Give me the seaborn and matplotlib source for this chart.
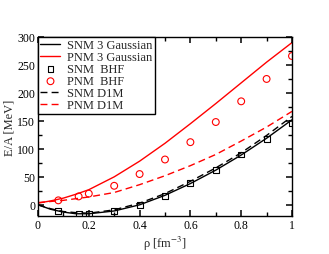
import numpy as np
import pandas as pd
import matplotlib
matplotlib.use("Agg")
import matplotlib.pyplot as plt
import seaborn as sns
from matplotlib.ticker import MultipleLocator

# densidades (fm^-3) das curvas
rho_curve = [0.0, 0.05, 0.1, 0.15, 0.2, 0.3, 0.4, 0.5, 0.6, 0.7, 0.8, 0.9, 1.0]
snm_gauss = [0, -8, -13, -16, -16, -11, 0, 17, 38, 62, 89, 119, 152]
pnm_gauss = [3, 7, 12, 19, 27, 50, 78, 110, 145, 181, 218, 255, 290]
snm_d1m = [0, -7, -12, -14, -15, -9, 3, 20, 42, 66, 93, 124, 158]
pnm_d1m = [4, 6, 8, 11, 14, 22, 36, 52, 70, 90, 114, 139, 167]

# pontos BHF
rho_bhf = [0.08, 0.16, 0.2, 0.3, 0.4, 0.5, 0.6, 0.7, 0.8, 0.9, 1.0]
snm_bhf = [-11, -17, -17, -11, 0, 16, 39, 63, 90, 118, 147]
pnm_bhf = [8, 15, 20, 34, 55, 81, 112, 148, 185, 225, 266]

sns.set_theme(style="ticks")
plt.rcParams["font.family"] = ["Liberation Serif", "DejaVu Serif"]
plt.rcParams["mathtext.fontset"] = "stix"
plt.rcParams["axes.axisbelow"] = False

curves = pd.DataFrame({"rho": rho_curve, "snm_g": snm_gauss, "pnm_g": pnm_gauss,
                       "snm_d": snm_d1m, "pnm_d": pnm_d1m})
bhf = pd.DataFrame({"rho": rho_bhf, "snm": snm_bhf, "pnm": pnm_bhf})

fig = plt.figure(figsize=(3.29, 2.55), dpi=100)
ax = fig.add_axes([0.1155, 0.149, 0.772, 0.702])

dash = (0, (5, 3))
sns.lineplot(data=curves, x="rho", y="snm_g", color="black", lw=1.0, ax=ax,
             label="SNM 3 Gaussian")
sns.lineplot(data=curves, x="rho", y="pnm_g", color="red", lw=1.0, ax=ax,
             label="PNM 3 Gaussian")
sns.scatterplot(data=bhf, x="rho", y="snm", marker="s", s=18, facecolor="none",
                edgecolor="black", linewidth=0.8, ax=ax, label="SNM  BHF", zorder=3)
sns.scatterplot(data=bhf, x="rho", y="pnm", marker="o", s=24, facecolor="none",
                edgecolor="red", linewidth=0.8, ax=ax, label="PNM  BHF", zorder=3)
sns.lineplot(data=curves, x="rho", y="snm_d", color="black", lw=1.0, ax=ax,
             linestyle=dash, label="SNM D1M")
sns.lineplot(data=curves, x="rho", y="pnm_d", color="red", lw=1.0, ax=ax,
             linestyle=dash, label="PNM D1M")

ax.set_xlim(0, 1)
ax.set_ylim(-20, 300)
ax.xaxis.set_major_locator(MultipleLocator(0.2))
ax.xaxis.set_minor_locator(MultipleLocator(0.1))
ax.yaxis.set_major_locator(MultipleLocator(50))
ax.yaxis.set_minor_locator(MultipleLocator(25))
ax.xaxis.set_major_formatter(plt.FuncFormatter(lambda v, p: f"{v:g}"))
ax.tick_params(which="both", direction="in", top=True, right=True,
               bottom=True, left=True, color="black")
ax.tick_params(which="major", length=4.5, width=1.1, labelsize=8.5, pad=2,
               labelcolor="black")
ax.tick_params(which="minor", length=3, width=1.0)
for s in ax.spines.values():
    s.set_color("black")
    s.set_linewidth(1.0)

ax.set_xlabel(r"ρ [fm$^{-3}$]", fontsize=9, labelpad=2)
ax.set_ylabel("E/A [MeV]", fontsize=9, labelpad=1)

leg = ax.legend(loc="upper left", fontsize=9, frameon=True, fancybox=False,
                borderaxespad=0, handlelength=1.6, handletextpad=0.5,
                labelspacing=0.0, borderpad=0.2, markerscale=1.0)
leg.get_frame().set_edgecolor("black")
leg.get_frame().set_linewidth(1.0)
leg.get_frame().set_alpha(1)

fig.savefig("out.png", dpi=100)
